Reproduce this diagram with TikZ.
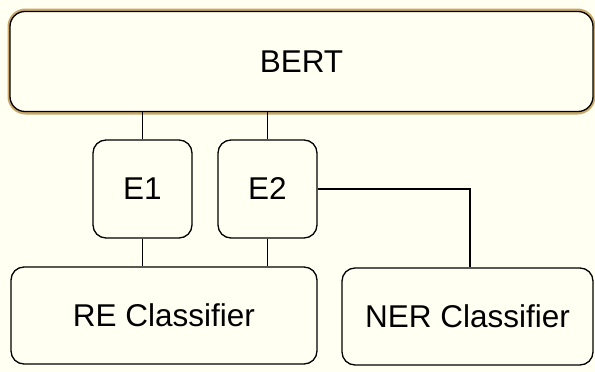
\documentclass[tikz,border=0pt]{standalone}
\usepackage{fontspec}
\setmainfont{Liberation Sans}
\definecolor{paper}{HTML}{FFFFF2}
\definecolor{rim}{HTML}{C9A66B}
\begin{document}
\begin{tikzpicture}[x=1pt,y=-1pt,
  block/.style={draw=black, line width=1.3pt, fill=paper, rounded corners=13pt,
    inner sep=0pt, font=\fontsize{31.5}{36}\selectfont},
  link/.style={draw=black, line width=1.1pt}]
  \fill[paper] (0,0) rectangle (595,372);
  \useasboundingbox (0,0) rectangle (595,372);
  % backbone with a tan rim
  \draw[rim, line width=4pt, rounded corners=16pt] (9.5,10.5) rectangle (593.5,112.5);
  \node[block, minimum width=583pt, minimum height=100pt, rounded corners=15pt] (bert) at (301.5,61.5) {BERT};
  % entity heads
  \node[block, minimum width=99pt, minimum height=98pt] (e1) at (142.5,189) {E1};
  \node[block, minimum width=99pt, minimum height=98pt] (e2) at (267.5,189) {E2};
  % classifiers
  \node[block, minimum width=306pt, minimum height=97pt] (re) at (164,315.5) {RE Classifier};
  \node[block, minimum width=251pt, minimum height=97pt] (ner) at (467.5,316.5) {NER Classifier};
  % connectors
  \draw[link] (e1.north) -- (e1.north |- bert.south);
  \draw[link] (e2.north) -- (e2.north |- bert.south);
  \draw[link] (e1.south) -- (e1.south |- re.north);
  \draw[link] (e2.south) -- (e2.south |- re.north);
  \draw[link] (e2.east) -| ([xshift=2.5pt]ner.north);
\end{tikzpicture}
\end{document}
